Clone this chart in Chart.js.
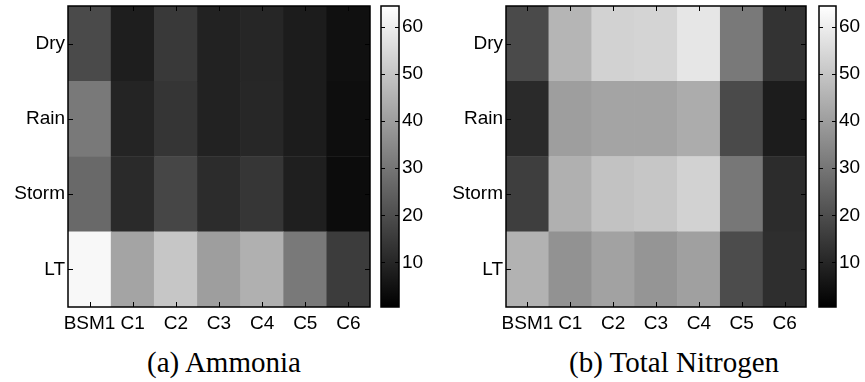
<!DOCTYPE html>
<html>
<head>
<meta charset="utf-8">
<script src="https://cdn.jsdelivr.net/npm/chart.js@4.4.1/dist/chart.umd.min.js"></script>
<style>
    html, body { margin: 0; padding: 0; background: #fff; width: 865px; height: 382px; overflow: hidden; }
    .caja { position: absolute; }
    .leyenda {
        position: absolute;
        width: 320px;
        text-align: center;
        font-family: "Liberation Serif", "Times New Roman", serif;
        font-size: 29px;
        line-height: normal;
        color: #000;
        white-space: nowrap;
    }
</style>
</head>
<body>

<div class="caja" style="left:0px;top:0px;width:372px;height:340px"><canvas id="mapaA"></canvas></div>
<div class="caja" style="left:375px;top:0px;width:60px;height:340px"><canvas id="barraA"></canvas></div>
<div class="caja" style="left:436px;top:0px;width:372px;height:340px"><canvas id="mapaB"></canvas></div>
<div class="caja" style="left:813px;top:0px;width:52px;height:340px"><canvas id="barraB"></canvas></div>

<div class="leyenda" style="left:64px;top:346px">(a) Ammonia</div>
<div class="leyenda" style="left:514px;top:346px">(b) Total Nitrogen</div>

<script>
const columnas = ["BSM1", "C1", "C2", "C3", "C4", "C5", "C6"];
const filas = ["Dry", "Rain", "Storm", "LT"];

// valores por fila (Dry, Rain, Storm, LT)
const amoniaco = [
    [19.3, 8.4, 15.0, 9.4, 10.4, 7.9, 5.0],
    [31.0, 10.0, 14.0, 9.4, 10.6, 7.9, 4.5],
    [27.0, 11.4, 18.3, 11.9, 14.3, 8.7, 4.0],
    [62.3, 41.5, 49.9, 40.0, 44.5, 31.0, 15.8]
];

const nitrogeno = [
    [19.3, 45.7, 52.9, 53.4, 57.8, 31.0, 13.6],
    [11.4, 40.0, 41.5, 41.5, 43.5, 19.3, 7.9],
    [16.3, 44.5, 48.9, 49.9, 52.9, 30.4, 11.9],
    [45.0, 37.0, 41.0, 37.8, 40.5, 19.8, 12.4]
];

const marcasBarra = [10, 20, 30, 40, 50, 60];
const colorMin = 1;
const colorMax = 64;

const fuente = { family: "'Liberation Sans', Arial, sans-serif", size: 19 };

function gris(v) {
    let t = (v - colorMin) / (colorMax - colorMin);
    t = Math.max(0, Math.min(1, t));
    const g = Math.round(t * 255);
    return `rgb(${g},${g},${g})`;
}

// marcas hacia dentro y borde negro, como en matlab
const marcas = {
    id: "marcas",
    afterDraw(chart, args, opts) {
        const ctx = chart.ctx;
        const a = chart.chartArea;
        const L = opts.largo || 5;

        ctx.save();
        ctx.strokeStyle = "#000";
        ctx.lineWidth = 1;
        ctx.beginPath();

        if (opts.conX) {
            const sx = chart.scales.x;
            sx.ticks.forEach((t, i) => {
                const px = Math.round(sx.getPixelForTick(i)) + 0.5;
                ctx.moveTo(px, a.bottom);
                ctx.lineTo(px, a.bottom - L);
                ctx.moveTo(px, a.top);
                ctx.lineTo(px, a.top + L);
            });
        }

        const sy = chart.scales.y;
        sy.ticks.forEach(t => {
            const py = Math.round(sy.getPixelForValue(t.value)) + 0.5;
            ctx.moveTo(a.left, py);
            ctx.lineTo(a.left + L, py);
            ctx.moveTo(a.right, py);
            ctx.lineTo(a.right - L, py);
        });
        ctx.stroke();

        ctx.lineWidth = 1.5;
        ctx.strokeRect(a.left, a.top, a.right - a.left, a.bottom - a.top);
        ctx.restore();
    }
};

function sinRelleno(scale) {
    scale.paddingTop = 0;
    scale.paddingBottom = 0;
    scale.paddingLeft = 0;
    scale.paddingRight = 0;
}

function dibujarMapa(idCanvas, valores, anchoEje) {

    // se apilan de abajo hacia arriba: LT, Storm, Rain, Dry
    const datasets = [];
    for (let f = filas.length - 1; f >= 0; f--) {
        datasets.push({
            label: filas[f],
            data: columnas.map(() => 1),
            backgroundColor: valores[f].map(v => gris(v)),
            borderWidth: 0,
            barPercentage: 1,
            categoryPercentage: 1
        });
    }

    return new Chart(document.getElementById(idCanvas), {
        type: "bar",
        data: { labels: columnas, datasets: datasets },
        options: {
            responsive: true,
            maintainAspectRatio: false,
            animation: false,
            layout: { padding: { top: 6, right: 2, left: 0, bottom: 0 } },
            plugins: {
                legend: { display: false },
                tooltip: { enabled: false },
                marcas: { conX: true, largo: 5 }
            },
            scales: {
                x: {
                    stacked: true,
                    grid: { display: false, drawTicks: false },
                    border: { display: false },
                    ticks: { color: "#000", font: fuente, padding: 5, maxRotation: 0, autoSkip: false },
                    afterFit(scale) {
                        scale.height = 33;
                        sinRelleno(scale);
                    }
                },
                y: {
                    stacked: true,
                    min: 0,
                    max: filas.length,
                    grid: { display: false, drawTicks: false },
                    border: { display: false },
                    afterBuildTicks(scale) {
                        scale.ticks = filas.map((n, i) => ({ value: filas.length - i - 0.5 }));
                    },
                    ticks: {
                        color: "#000",
                        font: fuente,
                        padding: 3,
                        callback: (v) => filas[filas.length - 1 - Math.floor(v)]
                    },
                    afterFit(scale) {
                        scale.width = anchoEje;
                        sinRelleno(scale);
                    }
                }
            }
        },
        plugins: [marcas]
    });
}

function dibujarBarra(idCanvas, anchoEje) {

    return new Chart(document.getElementById(idCanvas), {
        type: "bar",
        data: {
            labels: [""],
            datasets: [{
                data: [[colorMin - 0.5, colorMax + 0.5]],
                backgroundColor: (c) => {
                    const a = c.chart.chartArea;
                    if (!a) return "#888";
                    const g = c.chart.ctx.createLinearGradient(0, a.bottom, 0, a.top);
                    g.addColorStop(0, gris(colorMin));
                    g.addColorStop(1, gris(colorMax));
                    return g;
                },
                borderWidth: 0,
                barPercentage: 1,
                categoryPercentage: 1
            }]
        },
        options: {
            responsive: true,
            maintainAspectRatio: false,
            animation: false,
            layout: { padding: { top: 6, left: 6, right: 0, bottom: 33 } },
            plugins: {
                legend: { display: false },
                tooltip: { enabled: false },
                marcas: { conX: false, largo: 4 }
            },
            scales: {
                x: { display: false },
                y: {
                    position: "right",
                    min: colorMin - 0.5,
                    max: colorMax + 0.5,
                    grid: { display: false, drawTicks: false },
                    border: { display: false },
                    afterBuildTicks(scale) {
                        scale.ticks = marcasBarra.map(v => ({ value: v }));
                    },
                    ticks: { color: "#000", font: fuente, padding: 3 },
                    afterFit(scale) {
                        scale.width = anchoEje;
                        sinRelleno(scale);
                    }
                }
            }
        },
        plugins: [marcas]
    });
}

dibujarMapa("mapaA", amoniaco, 68);
dibujarBarra("barraA", 36);
dibujarMapa("mapaB", nitrogeno, 70);
dibujarBarra("barraB", 29);
</script>
</body>
</html>
